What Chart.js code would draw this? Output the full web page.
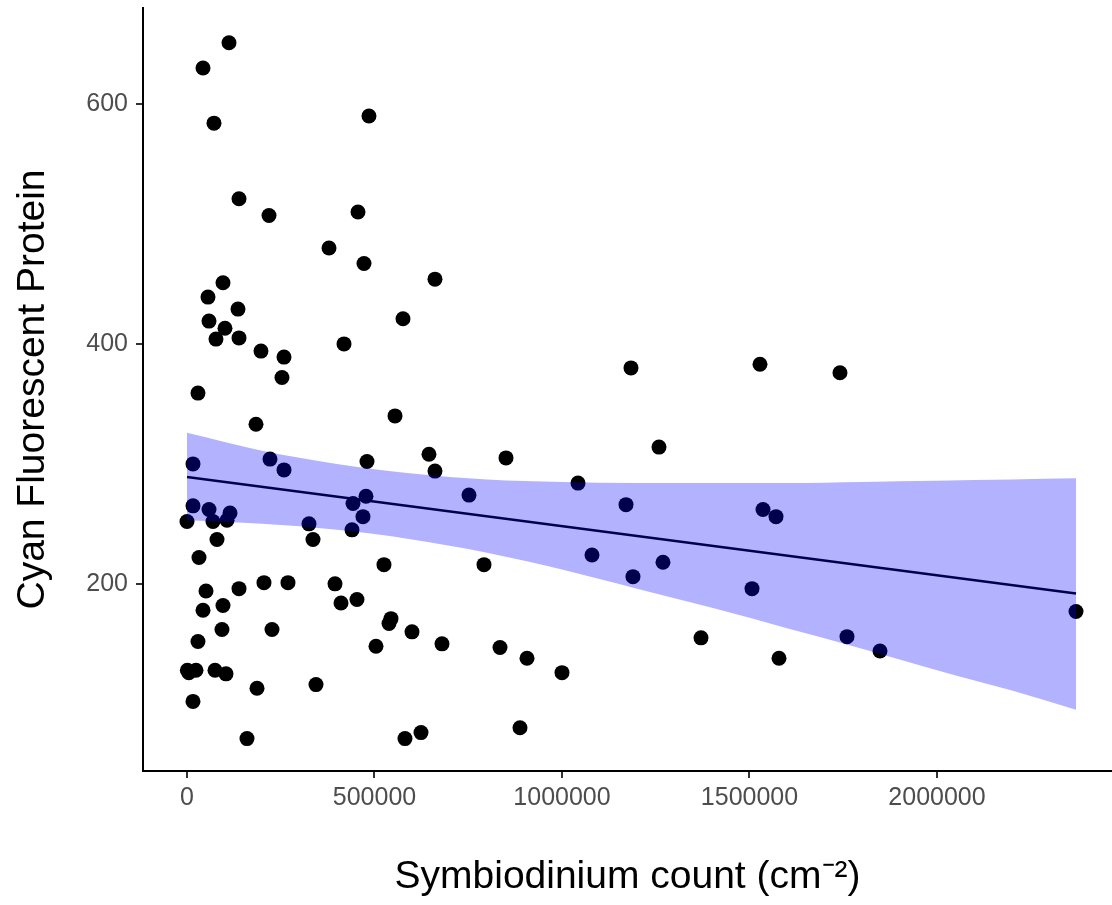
<!DOCTYPE html>
<html>
<head>
<meta charset="utf-8">
<script src="https://cdn.jsdelivr.net/npm/chart.js@4/dist/chart.umd.min.js"></script>
<style>
  html, body { margin: 0; padding: 0; background: #fff; overflow: hidden; }
  #wrap { width: 1112px; height: 905px; }
</style>
</head>
<body>
<div id="wrap"><canvas id="cfpChart" width="1112" height="905"></canvas></div>
<script>
// DATA
const symCount = [112000, 42700, 72000, 485300, 138700, 218700, 456000, 378700, 472000, 661300,
  96000, 56000, 136000, 576000, 58700, 101300, 77300, 138700, 418700, 197300,
  258700, 253300, 29300, 554700, 184000, 645300, 661300, 480000, 16000, 221300,
  258700, 850700, 1258700, 1184000, 1528000, 1741300, 1042700, 752000, 477300, 442700,
  16000, 58700, 114700, 1170700, 1536000, 1570700, 469300, 69300, 106700, 0,
  325300, 440000, 336000, 80000, 32000, 525300, 792000, 1080000, 1269300, 1189300,
  1506700, 50700, 138700, 205300, 269300, 394700, 410700, 453300, 42700, 96000,
  93300, 226700, 544000, 538700, 600000, 29300, 504000, 680000, 834700, 906700,
  1000000, 1370700, 1578700, 1760000, 1848000, 2370700, 1000, 5000, 24000, 74700,
  104000, 186700, 344000, 16000, 160000, 581300, 624000, 888000];

const cfpValues = [651, 630, 584, 590, 521, 507, 510, 480, 467, 454,
  451, 439, 429, 421, 419, 413, 404, 405, 400, 394,
  389, 372, 359, 340, 333, 308, 294, 302, 300, 304,
  295, 305, 314, 380, 383, 376, 284, 274, 273, 267,
  265, 262, 259, 266, 262, 256, 256, 252, 253, 252,
  250, 245, 237, 237, 222, 216, 216, 224, 218, 206,
  196, 194, 196, 201, 201, 200, 184, 187, 178, 182,
  162, 162, 171, 167, 160, 152, 148, 150, 147, 138,
  126, 155, 138, 156, 144, 177, 128, 126, 128, 128,
  125, 113, 116, 102, 71, 71, 76, 80];

// linear fit and its confidence band
const fitX = [0, 2370700];
const fitY = [289, 192];
const bandX = [0, 200000, 400000, 600000, 800000, 1000000, 1200000, 1400000, 1600000, 1800000, 2000000, 2200000, 2370700];
const bandUpper = [326, 311, 300, 292, 287, 285, 284, 284, 284, 285, 286, 287, 288];
const bandLower = [253, 250, 245, 237, 226, 212, 196, 180, 163, 146, 128, 111, 95];

const xTicks = [0, 500000, 1000000, 1500000, 2000000];
const yTicks = [200, 400, 600];

const FONT = '"Liberation Sans", Arial, Helvetica, sans-serif';

const toXY = (xs, ys) => xs.map((x, i) => ({ x: x, y: ys[i] }));

// keep the plot box where the reference has it
const noPad = (scale) => {
  scale.paddingTop = 0;
  scale.paddingBottom = 0;
  scale.paddingLeft = 0;
  scale.paddingRight = 0;
};

new Chart(document.getElementById("cfpChart"), {
  type: "scatter",
  data: {
    datasets: [
      {
        type: "line",
        label: "band upper",
        data: toXY(bandX, bandUpper),
        fill: "+1",
        backgroundColor: "rgba(0,0,255,0.3)",
        borderColor: "transparent",
        borderWidth: 0,
        pointRadius: 0,
        cubicInterpolationMode: "monotone",
        order: 0
      },
      {
        type: "line",
        label: "band lower",
        data: toXY(bandX, bandLower),
        fill: false,
        borderColor: "transparent",
        borderWidth: 0,
        pointRadius: 0,
        cubicInterpolationMode: "monotone",
        order: 0
      },
      {
        type: "line",
        label: "fit",
        data: toXY(fitX, fitY),
        fill: false,
        borderColor: "#000000",
        borderWidth: 2.5,
        pointRadius: 0,
        order: 1
      },
      {
        label: "CFP",
        data: toXY(symCount, cfpValues),
        backgroundColor: "#000000",
        borderWidth: 0,
        pointRadius: 7.5,
        pointHoverRadius: 7.5,
        order: 2
      }
    ]
  },
  options: {
    responsive: false,
    animation: false,
    events: [],
    layout: { autoPadding: false, padding: { top: 8, right: 0, bottom: 0, left: 0 } },
    plugins: {
      legend: { display: false },
      tooltip: { enabled: false }
    },
    scales: {
      x: {
        type: "linear",
        min: -117300,
        max: 2466700,
        afterFit: (scale) => { scale.height = 134; noPad(scale); },
        afterBuildTicks: (scale) => { scale.ticks = xTicks.map(v => ({ value: v })); },
        grid: { drawOnChartArea: false, drawTicks: true, tickLength: 7, color: "#333333", lineWidth: 2 },
        border: { display: true, color: "#000000", width: 2 },
        ticks: {
          color: "#4d4d4d",
          padding: 5,
          maxRotation: 0,
          font: { family: FONT, size: 25 },
          callback: (v) => String(v)
        },
        title: {
          display: true,
          text: "Symbiodinium count (cm\u207B\u00B2)",
          color: "#000000",
          font: { family: FONT, size: 39 },
          padding: { top: 0, bottom: 4 }
        }
      },
      y: {
        type: "linear",
        min: 44,
        max: 680,
        afterFit: (scale) => { scale.width = 143; noPad(scale); },
        afterBuildTicks: (scale) => { scale.ticks = yTicks.map(v => ({ value: v })); },
        grid: { drawOnChartArea: false, drawTicks: true, tickLength: 7, color: "#333333", lineWidth: 2 },
        border: { display: true, color: "#000000", width: 2 },
        ticks: {
          color: "#4d4d4d",
          padding: 8,
          font: { family: FONT, size: 25 },
          callback: (v) => String(v)
        },
        title: {
          display: true,
          text: "Cyan Fluorescent Protein",
          color: "#000000",
          font: { family: FONT, size: 39 },
          padding: { top: 10, bottom: 0 }
        }
      }
    }
  }
});
</script>
</body>
</html>
